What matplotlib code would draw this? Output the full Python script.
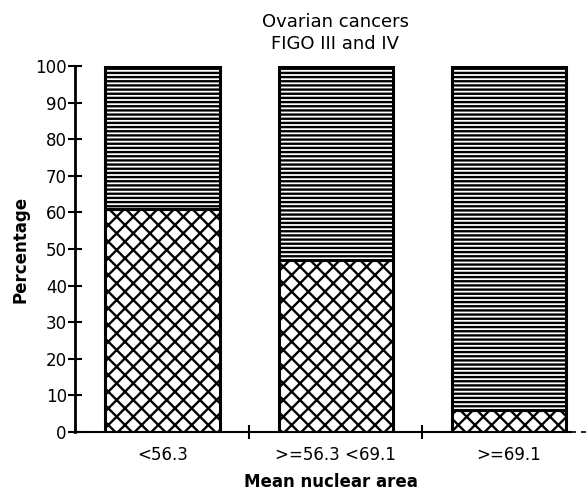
import matplotlib.pyplot as plt
import numpy as np

plt.rcParams["font.family"] = ["DejaVu Sans"]
plt.rcParams["hatch.linewidth"] = 1.7

# data
categories = ["<56.3", ">=56.3 <69.1", ">=69.1"]
lower_pct = [61, 47, 6]          # cross-hatched part
upper_pct = [100 - v for v in lower_pct]  # horizontal-line part

fig = plt.figure(figsize=(5.87, 4.93), dpi=100)
ax = fig.add_axes([0.128, 0.124, 0.872, 0.742])

x = np.arange(len(categories))
ax.bar(x, lower_pct, width=0.66, color="white", edgecolor="black",
       hatch="xx", linewidth=2.2)
ax.bar(x, upper_pct, width=0.66, bottom=lower_pct, color="white",
       edgecolor="black", hatch="----", linewidth=2.2)

ax.set_xlim(-0.504, 2.45)
ax.set_ylim(0, 100)
ax.set_yticks(range(0, 101, 10))
ax.set_xticks(x)
ax.set_xticklabels(categories, fontsize=12)
ax.set_xticks([0.5, 1.5], minor=True)
ax.tick_params(axis="x", which="major", length=0, pad=10)
ax.tick_params(axis="x", which="minor", direction="inout", length=10, width=1.5)
ax.tick_params(axis="y", direction="inout", length=10, width=1.5, labelsize=12, pad=1)

for s in ["top", "right"]:
    ax.spines[s].set_visible(False)
ax.spines["left"].set_linewidth(2)
ax.spines["bottom"].set_linewidth(1.5)
ax.spines["bottom"].set_bounds(-0.504, 2.36)
# dashed tail of the x axis at the right edge
ax.plot([2.36, 2.45], [0, 0], color="black", lw=1.2, ls=(0, (3, 3)), clip_on=False)

ax.set_ylabel("Percentage", fontsize=12, fontweight="bold", labelpad=4)
ax.set_xlabel("Mean nuclear area", fontsize=12, fontweight="bold", labelpad=7)
ax.set_title("Ovarian cancers\nFIGO III and IV", fontsize=13, x=0.508,
             linespacing=1.3, pad=12)

fig.savefig("out.png", dpi=100)
